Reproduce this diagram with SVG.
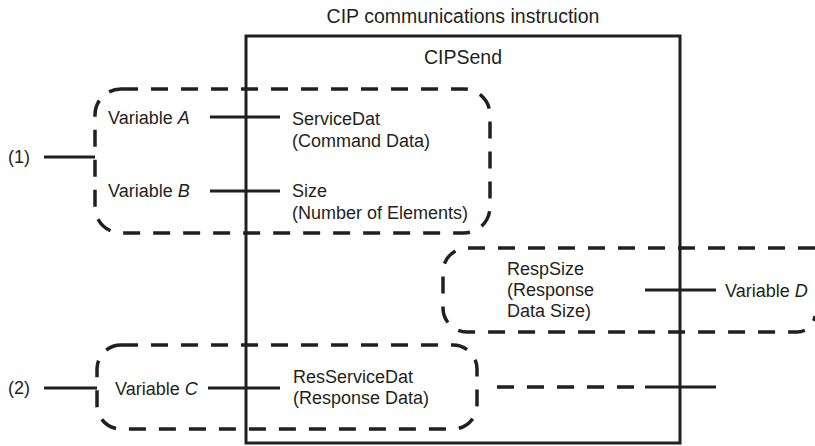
<svg xmlns="http://www.w3.org/2000/svg" width="815" height="446" viewBox="0 0 815 446">
<style>
text{font-family:"Liberation Sans",Arial,sans-serif;font-size:18px;fill:#231f20}
.t{font-size:19.5px}
.dash{fill:none;stroke:#231f20;stroke-width:3.5;stroke-dasharray:17 13}
.ln{fill:none;stroke:#231f20;stroke-width:3}
.box{fill:none;stroke:#231f20;stroke-width:3}
</style>
<rect width="815" height="446" fill="#fff"/>
<g id="instruction">
<rect class="box" x="246" y="36" width="434" height="407"/>
<text class="t" x="463" y="23" text-anchor="middle">CIP communications instruction</text>
<text class="t" x="463" y="64" text-anchor="middle" font-size="20.5">CIPSend</text>
</g>
<g id="group1">
<rect class="dash" x="95" y="89" width="395" height="144" rx="26"/>
<text x="8" y="163">(1)</text>
</g>
<g id="group2">
<path class="dash" d="M815 248 H467 A24 24 0 0 0 443 272 V308 A24 24 0 0 0 467 332 H797 A18 18 0 0 0 815 316"/>
</g>
<g id="group3">
<rect class="dash" x="97" y="345" width="380" height="84" rx="24"/>
<text x="8" y="394">(2)</text>
</g>
<g id="varA"><text x="108" y="124">Variable <tspan font-style="italic">A</tspan></text></g>
<g id="varB"><text x="108" y="197">Variable <tspan font-style="italic">B</tspan></text></g>
<g id="varC"><text x="115" y="395">Variable <tspan font-style="italic">C</tspan></text></g>
<g id="varD"><text x="725" y="297">Variable <tspan font-style="italic">D</tspan></text></g>
<g id="serviceDat"><text x="292" y="125">ServiceDat</text><text x="292" y="147">(Command Data)</text></g>
<g id="size"><text x="292" y="197">Size</text><text x="292" y="219">(Number of Elements)</text></g>
<g id="respSize"><text x="507" y="275">RespSize</text><text x="507" y="296">(Response</text><text x="507" y="317">Data Size)</text></g>
<g id="resServiceDat"><text x="293" y="383">ResServiceDat</text><text x="293" y="404">(Response Data)</text></g>
<g id="connectors">
<line class="ln" x1="44" y1="157" x2="95" y2="157"/>
<line class="ln" x1="210" y1="117" x2="280" y2="117"/>
<line class="ln" x1="210" y1="191" x2="280" y2="191"/>
<line class="ln" x1="44" y1="388" x2="97" y2="388"/>
<line class="ln" x1="208" y1="388" x2="280" y2="388"/>
<line class="ln" x1="645" y1="290" x2="716" y2="290"/>
<line class="dash" x1="497" y1="387" x2="635" y2="387"/>
<line class="ln" x1="645" y1="387" x2="716" y2="387"/>
</g>
</svg>
